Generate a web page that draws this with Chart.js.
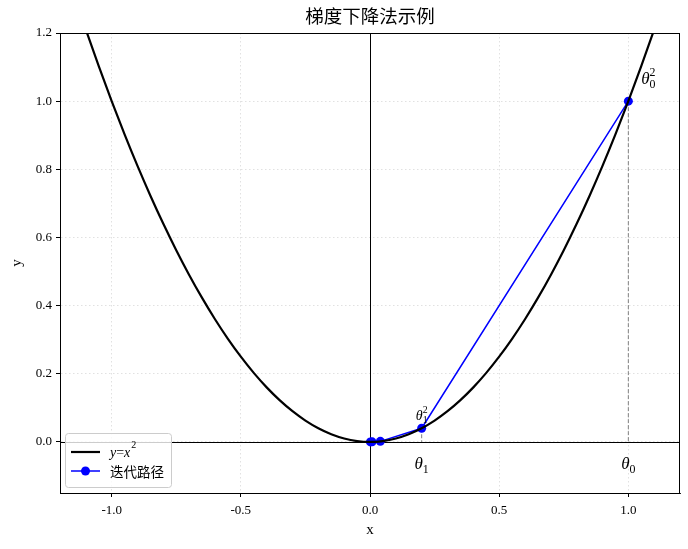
<!DOCTYPE html>
<html>
<head>
<meta charset="utf-8">
<script src="https://cdn.jsdelivr.net/npm/chart.js@4.4.1/dist/chart.umd.min.js"></script>
<style>
  body { margin: 0; background: #fff; }
</style>
</head>
<body>
<canvas id="myChart" width="688" height="549"></canvas>
<script>
// y = x^2 curve, sampled values
const curveX = [-1.2, -1.15, -1.1, -1.05, -1.0, -0.95, -0.9, -0.85, -0.8, -0.75, -0.7, -0.65, -0.6, -0.55, -0.5, -0.45, -0.4, -0.35, -0.3, -0.25, -0.2, -0.15, -0.1, -0.05,
  0, 0.05, 0.1, 0.15, 0.2, 0.25, 0.3, 0.35, 0.4, 0.45, 0.5, 0.55, 0.6, 0.65, 0.7, 0.75, 0.8, 0.85, 0.9, 0.95, 1.0, 1.05, 1.1, 1.15, 1.2];
const curveY = [1.44, 1.3225, 1.21, 1.1025, 1.0, 0.9025, 0.81, 0.7225, 0.64, 0.5625, 0.49, 0.4225, 0.36, 0.3025, 0.25, 0.2025, 0.16, 0.1225, 0.09, 0.0625, 0.04, 0.0225, 0.01, 0.0025,
  0, 0.0025, 0.01, 0.0225, 0.04, 0.0625, 0.09, 0.1225, 0.16, 0.2025, 0.25, 0.3025, 0.36, 0.4225, 0.49, 0.5625, 0.64, 0.7225, 0.81, 0.9025, 1.0, 1.1025, 1.21, 1.3225, 1.44];

// gradient descent iterations
const pathX = [1.0, 0.2, 0.04, 0.008, 0.0016];
const pathY = [1.0, 0.04, 0.0016, 0.000064, 0.00000256];

const xTicks = [-1.0, -0.5, 0.0, 0.5, 1.0];
const yTicks = [0.0, 0.2, 0.4, 0.6, 0.8, 1.0, 1.2];

const titleText = '梯度下降法示例';
const pathLabel = '迭代路径';

const toPoints = (xs, ys) => xs.map((x, i) => ({ x: x, y: ys[i] }));

const serif = '"Liberation Serif", "Times New Roman", serif';
const cjk = '"Noto Sans CJK SC", sans-serif';

// theta with subscript / superscript
function drawTheta(ctx, px, py, sub, sup, size, align) {
    ctx.save();
    ctx.textBaseline = 'alphabetic';
    ctx.textAlign = 'left';
    ctx.font = 'italic ' + size + 'px ' + serif;
    const w1 = ctx.measureText('θ').width;
    ctx.font = (size * 0.7) + 'px ' + serif;
    const w2 = Math.max(ctx.measureText(sub).width, sup ? ctx.measureText(sup).width : 0);
    const total = w1 + w2;
    let x0 = px;
    if (align === 'center') x0 = px - total / 2;
    ctx.fillStyle = '#000';
    ctx.font = 'italic ' + size + 'px ' + serif;
    ctx.fillText('θ', x0, py);
    ctx.font = (size * 0.7) + 'px ' + serif;
    ctx.fillText(sub, x0 + w1, py + size * 0.2);
    if (sup) ctx.fillText(sup, x0 + w1, py - size * 0.45);
    ctx.restore();
}

const extras = {
    id: 'extras',
    beforeDatasetsDraw(chart) {
        const { ctx, chartArea: a, scales: { x, y } } = chart;
        ctx.save();
        ctx.strokeStyle = '#000';
        ctx.lineWidth = 1;
        ctx.beginPath();
        const x0 = Math.round(x.getPixelForValue(0)) + 0.5;
        const y0 = Math.round(y.getPixelForValue(0)) + 0.5;
        ctx.moveTo(x0, a.top); ctx.lineTo(x0, a.bottom);
        ctx.moveTo(a.left, y0); ctx.lineTo(a.right, y0);
        ctx.stroke();
        ctx.restore();
    },
    afterDraw(chart) {
        const { ctx, chartArea: a, scales: { x, y } } = chart;
        ctx.save();
        // box
        ctx.strokeStyle = '#000';
        ctx.lineWidth = 1;
        ctx.strokeRect(a.left + 0.5, a.top + 0.5, a.right - a.left - 1, a.bottom - a.top);

        // title
        ctx.fillStyle = '#000';
        ctx.textAlign = 'center';
        ctx.textBaseline = 'middle';
        ctx.font = '18.5px ' + cjk;
        ctx.fillText(titleText, (a.left + a.right) / 2, 16);

        // axis titles
        ctx.font = '15px ' + serif;
        ctx.fillText('x', (a.left + a.right) / 2, 530);
        ctx.save();
        ctx.translate(17, (a.top + a.bottom) / 2);
        ctx.rotate(-Math.PI / 2);
        ctx.fillText('y', 0, 0);
        ctx.restore();

        // theta labels
        drawTheta(ctx, x.getPixelForValue(pathX[0]), y.getPixelForValue(-0.08), '0', null, 17, 'center');
        drawTheta(ctx, x.getPixelForValue(pathX[1]), y.getPixelForValue(-0.08), '1', null, 17, 'center');
        drawTheta(ctx, x.getPixelForValue(pathX[0] + 0.05), y.getPixelForValue(1.05), '0', '2', 17, 'left');
        drawTheta(ctx, x.getPixelForValue(pathX[1]), y.getPixelForValue(0.065), '1', '2', 14, 'center');

        // legend
        const lx = a.left + 5, ly = a.bottom - 60;
        const lw = 106, lh = 54;
        ctx.beginPath();
        ctx.roundRect(lx + 0.5, ly + 0.5, lw, lh, 3);
        ctx.fillStyle = 'rgba(255,255,255,0.8)';
        ctx.fill();
        ctx.strokeStyle = '#cccccc';
        ctx.stroke();

        ctx.lineWidth = 2.2;
        ctx.strokeStyle = '#000';
        ctx.beginPath();
        ctx.moveTo(lx + 6, ly + 19); ctx.lineTo(lx + 35, ly + 19);
        ctx.stroke();
        ctx.lineWidth = 1.5;
        ctx.strokeStyle = '#0000ff';
        ctx.beginPath();
        ctx.moveTo(lx + 6, ly + 38); ctx.lineTo(lx + 35, ly + 38);
        ctx.stroke();
        ctx.fillStyle = '#0000ff';
        ctx.beginPath();
        ctx.arc(lx + 20.5, ly + 38, 4.5, 0, Math.PI * 2);
        ctx.fill();

        ctx.fillStyle = '#000';
        ctx.textAlign = 'left';
        ctx.textBaseline = 'alphabetic';
        ctx.font = 'italic 14px ' + serif;
        let tx = lx + 45;
        ctx.fillText('y', tx, ly + 24);
        tx += ctx.measureText('y').width;
        ctx.font = '14px ' + serif;
        ctx.fillText('=', tx, ly + 24);
        tx += ctx.measureText('=').width;
        ctx.font = 'italic 14px ' + serif;
        ctx.fillText('x', tx, ly + 24);
        tx += ctx.measureText('x').width;
        ctx.font = '10px ' + serif;
        ctx.fillText('2', tx + 1, ly + 15);

        ctx.font = '13.5px ' + cjk;
        ctx.textBaseline = 'middle';
        ctx.fillText(pathLabel, lx + 45, ly + 39);
        ctx.restore();
    }
};

const gridCommon = {
    color: '#d9d9d9',
    lineWidth: 0.8,
    tickColor: '#000',
    tickLength: 4,
    tickBorderDash: [],
    tickWidth: 1
};

const myChart = new Chart(document.getElementById('myChart'), {
    type: 'scatter',
    data: {
        datasets: [
            {
                label: 'y=x^2',
                data: toPoints(curveX, curveY),
                showLine: true,
                borderColor: '#000',
                borderWidth: 2.2,
                pointRadius: 0,
                cubicInterpolationMode: 'monotone'
            },
            {
                label: pathLabel,
                data: toPoints(pathX, pathY),
                showLine: true,
                borderColor: '#0000ff',
                backgroundColor: '#0000ff',
                borderWidth: 1.5,
                pointRadius: 4.5,
                pointBorderWidth: 0,
                tension: 0
            },
            {
                label: 'guide0',
                data: [{ x: pathX[0], y: pathY[0] }, { x: pathX[0], y: 0 }],
                showLine: true,
                borderColor: '#808080',
                borderWidth: 1,
                borderDash: [4, 2],
                pointRadius: 0
            },
            {
                label: 'guide1',
                data: [{ x: pathX[1], y: pathY[1] }, { x: pathX[1], y: 0 }],
                showLine: true,
                borderColor: '#808080',
                borderWidth: 1,
                borderDash: [4, 2],
                pointRadius: 0
            }
        ]
    },
    options: {
        responsive: false,
        animation: false,
        layout: { padding: { top: 33, right: 8, left: 0, bottom: 0 } },
        plugins: {
            legend: { display: false },
            tooltip: { enabled: false }
        },
        scales: {
            x: {
                type: 'linear',
                min: -1.2,
                max: 1.2,
                afterBuildTicks: s => { s.ticks = xTicks.map(v => ({ value: v })); },
                afterFit: s => { s.height = 56; },
                grid: gridCommon,
                border: { color: '#000', width: 1, dash: [1.5, 2.5] },
                ticks: {
                    color: '#000',
                    padding: 6,
                    maxRotation: 0,
                    font: { family: serif, size: 13 },
                    callback: v => v.toFixed(1)
                }
            },
            y: {
                type: 'linear',
                min: -0.15,
                max: 1.2,
                afterBuildTicks: s => { s.ticks = yTicks.map(v => ({ value: v })); },
                afterFit: s => { s.width = 60; },
                grid: gridCommon,
                border: { color: '#000', width: 1, dash: [1.5, 2.5] },
                ticks: {
                    color: '#000',
                    padding: 4,
                    font: { family: serif, size: 13 },
                    callback: v => v.toFixed(1)
                }
            }
        }
    },
    plugins: [extras]
});
</script>
</body>
</html>
